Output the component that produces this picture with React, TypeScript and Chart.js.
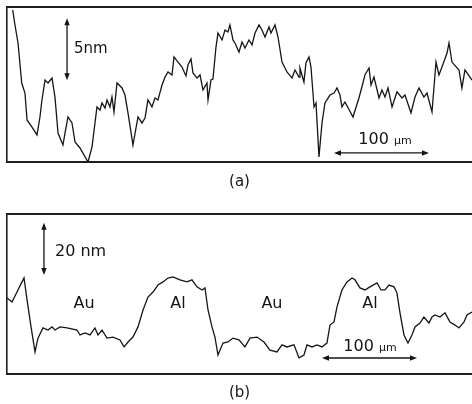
import { useEffect, useRef } from "react";
import { Chart, registerables } from "chart.js";

Chart.register(...registerables);

// ---------- Data (x: lateral position in µm, y: height in nm) ----------
const traceAX = [
  6.0, 8.4, 11.6, 15.5, 18.9, 21.1, 26.3, 31.6, 34.7, 36.8, 40.0, 43.2, 47.4, 50.5, 53.7, 58.9, 61.1, 64.2,
  68.4, 71.6, 76.8, 85.3, 89.5, 94.7, 97.9, 100.0, 103.2, 105.3, 108.4, 110.5, 112.6, 115.8, 121.1, 124.2,
  127.4, 132.6, 137.9, 142.1, 145.3, 148.4, 152.6, 155.8, 158.9, 163.2, 166.3, 169.5, 173.7, 175.8, 180.0,
  184.2, 188.4, 190.5, 193.7, 195.8, 200.0, 203.2, 206.3, 210.5, 211.6, 214.7, 216.8, 220.0, 222.1, 226.3,
  229.5, 232.6, 234.7, 237.9, 240.0, 244.2, 247.4, 250.5, 254.7, 257.9, 261.1, 265.3, 268.4, 271.6, 275.8,
  277.9, 282.1, 285.3, 289.5, 294.7, 300.0, 303.2, 307.4, 308.4, 312.6, 314.7, 317.9, 320.0, 323.2, 325.3,
  328.4, 331.6, 334.7, 340.0, 344.2, 347.4, 350.5, 352.6, 355.8, 364.2, 370.5, 374.7, 376.8, 381.1, 383.2,
  386.3, 391.6, 394.7, 397.9, 401.1, 405.3, 410.5, 415.8, 418.9, 423.2, 425.3, 429.5, 433.7, 438.9, 442.1,
  447.4, 451.6, 454.7, 457.9, 463.2, 465.3, 468.4, 475.8, 478.9, 482.1, 489.5,
];
const traceAY = [
  12.26, 11.05, 9.6, 6.37, 5.56, 3.39, 2.82, 2.18, 3.63, 5.0, 6.61, 6.37, 6.77, 5.24, 2.34, 1.37, 2.34, 3.63,
  3.15, 1.61, 1.13, 0.0, 1.21, 4.44, 4.19, 4.76, 4.35, 5.0, 4.44, 5.24, 4.03, 6.37, 5.97, 5.4,
  3.95, 1.37, 3.63, 3.15, 3.55, 5.0, 4.44, 5.16, 5.0, 6.21, 6.85, 7.26, 7.02, 8.47, 8.06,
  7.66, 6.94, 7.82, 8.31, 7.18, 6.77, 7.02, 5.81, 6.37, 5.0, 6.61, 6.69, 9.27, 10.4, 9.84,
  10.65, 10.48, 11.05, 9.84, 9.6, 8.87, 9.68, 9.19, 9.84, 9.44, 10.4, 11.05, 10.65, 10.08, 10.89,
  10.4, 11.05, 10.08, 8.06, 7.26, 6.77, 7.42, 6.85, 7.58, 6.45, 7.98, 8.47, 7.66, 4.44, 4.76,
  0.4, 3.15, 4.76, 5.4, 5.56, 5.97, 5.4, 4.44, 4.84, 3.63, 5.16, 6.37, 7.02, 7.58, 6.21,
  6.85, 5.16, 5.81, 5.24, 5.97, 4.44, 5.65, 5.16, 5.4, 4.44, 3.95, 5.24, 5.97, 5.24, 5.56,
  4.03, 8.06, 7.02, 7.66, 8.79, 9.6, 8.06, 7.42, 5.97, 7.42, 6.61,
];

const traceBX = [
  0, 5.3, 10.5, 15.8, 17.9, 21.1, 25.3, 29.5, 32.6, 37.9, 43.2, 47.4, 50.5, 55.8, 63.2, 73.7, 76.8, 82.1,
  87.4, 92.6, 95.8, 100.0, 105.3, 111.6, 118.9, 123.2, 127.4, 132.6, 137.9, 143.2, 148.4, 153.7, 158.9,
  164.2, 169.5, 174.7, 182.1, 189.5, 194.7, 200.0, 205.3, 208.4, 211.6, 215.8, 218.9, 222.1, 227.4, 232.6,
  237.9, 244.2, 250.5, 255.8, 263.2, 270.5, 276.8, 284.2, 289.5, 294.7, 302.1, 307.4, 312.6, 315.8, 321.1,
  326.3, 331.6, 336.8, 340.0, 344.2, 347.4, 352.6, 357.9, 363.2, 366.3, 371.6, 376.8, 382.1, 389.5, 393.7,
  397.9, 402.1, 407.4, 410.5, 413.7, 417.9, 422.1, 426.3, 429.5, 434.7, 438.9, 444.2, 447.4, 450.5, 455.8,
  461.1, 466.3, 471.6, 475.8, 481.1, 484.2, 489.5,
];
const traceBY = [
  29.2, 27.7, 31.5, 35.4, 36.9, 28.5, 18.1, 8.5, 13.8, 17.7, 16.9, 18.1, 16.9, 18.1, 17.7, 16.9, 15.0, 15.8,
  15.0, 17.7, 15.0, 16.9, 13.8, 14.2, 13.1, 10.4, 12.3, 14.2, 18.1, 24.6, 29.6, 31.5, 34.2,
  35.4, 36.9, 37.3, 36.2, 35.4, 36.2, 33.5, 32.3, 33.1, 24.6, 18.1, 14.2, 7.3, 11.9, 12.3,
  13.8, 13.1, 10.4, 13.8, 14.2, 12.3, 9.2, 8.5, 11.2, 10.4, 11.2, 6.2, 7.3, 11.2, 10.4,
  11.2, 10.4, 11.9, 18.8, 20.0, 25.8, 32.3, 35.4, 36.9, 36.2, 33.1, 32.3, 33.5, 35.0, 32.3,
  32.3, 34.2, 33.5, 31.2, 23.5, 15.0, 11.9, 15.0, 18.1, 19.6, 21.9, 19.6, 21.9, 22.7, 21.9,
  23.5, 20.0, 18.8, 17.7, 20.0, 22.7, 23.8,
];

const xRange = [0, 489.5];
const aYRange = [0, 12.5];
const bYRange = [0, 61.5];

// scale bars and labels (data units)
const aHeightBar = { x: 63.2, y0: 6.6, y1: 11.6, label: "5nm", labelX: 70.5, labelY: 9.11 };
const aLengthBar = { x0: 344.2, x1: 444.2, y: 0.73, label: "100", unit: "μm", labelX: 397.9, labelY: 1.94 };
const bHeightBar = { x: 38.9, y0: 38.1, y1: 58.1, label: "20 nm", labelX: 50.5, labelY: 46.9 };
const bLengthBar = { x0: 331.6, x1: 431.6, y: 6.15, label: "100", unit: "μm", labelX: 382.1, labelY: 11.15 };
const materialLabels = ["Au", "Al", "Au", "Al"];
const materialX = [81.1, 180.0, 278.9, 382.1];
const materialY = 26.9;

const FONT = "'DejaVu Sans', 'Liberation Sans', sans-serif";
const INK = "#151515";

type Bar = { x: number; y0: number; y1: number; label: string; labelX: number; labelY: number };
type HBar = { x0: number; x1: number; y: number; label: string; unit: string; labelX: number; labelY: number };

function head(ctx: CanvasRenderingContext2D, x: number, y: number, dx: number, dy: number) {
  const L = 7;
  const W = 2.7;
  const bx = x - dx * L;
  const by = y - dy * L;
  ctx.beginPath();
  ctx.moveTo(x, y);
  ctx.lineTo(bx - dy * W, by + dx * W);
  ctx.lineTo(bx + dy * W, by - dx * W);
  ctx.closePath();
  ctx.fill();
}

function makeNotes(vBar: Bar, hBar: HBar, fontSize: number, labels?: { text: string[]; xs: number[]; y: number }) {
  return {
    id: "notes",
    afterDatasetsDraw(chart: any) {
      const ctx: CanvasRenderingContext2D = chart.ctx;
      const xs = chart.scales.x;
      const ys = chart.scales.y;
      ctx.save();
      ctx.strokeStyle = INK;
      ctx.fillStyle = INK;
      ctx.lineWidth = 1.3;
      // vertical bar
      const vx = xs.getPixelForValue(vBar.x);
      const vTop = ys.getPixelForValue(vBar.y1);
      const vBot = ys.getPixelForValue(vBar.y0);
      ctx.beginPath();
      ctx.moveTo(vx, vTop + 3);
      ctx.lineTo(vx, vBot - 3);
      ctx.stroke();
      head(ctx, vx, vTop, 0, -1);
      head(ctx, vx, vBot, 0, 1);
      // horizontal bar
      const hy = ys.getPixelForValue(hBar.y);
      const hl = xs.getPixelForValue(hBar.x0);
      const hr = xs.getPixelForValue(hBar.x1);
      ctx.beginPath();
      ctx.moveTo(hl + 3, hy);
      ctx.lineTo(hr - 3, hy);
      ctx.stroke();
      head(ctx, hl, hy, -1, 0);
      head(ctx, hr, hy, 1, 0);
      // texts
      ctx.textBaseline = "middle";
      ctx.textAlign = "left";
      ctx.font = `${fontSize}px ${FONT}`;
      ctx.fillText(vBar.label, xs.getPixelForValue(vBar.labelX), ys.getPixelForValue(vBar.labelY));
      ctx.font = `16px ${FONT}`;
      const w1 = ctx.measureText(hBar.label + " ").width;
      ctx.font = `11px ${FONT}`;
      const w2 = ctx.measureText(hBar.unit).width;
      const cx = xs.getPixelForValue(hBar.labelX) - (w1 + w2) / 2;
      const cy = ys.getPixelForValue(hBar.labelY);
      ctx.font = `16px ${FONT}`;
      ctx.textBaseline = "alphabetic";
      ctx.fillText(hBar.label, cx, cy + 6);
      ctx.font = `11px ${FONT}`;
      ctx.fillText(hBar.unit, cx + w1, cy + 6);
      if (labels) {
        ctx.textBaseline = "middle";
        ctx.textAlign = "center";
        ctx.font = `16px ${FONT}`;
        labels.text.forEach((t, i) => {
          ctx.fillText(t, xs.getPixelForValue(labels.xs[i]), ys.getPixelForValue(labels.y));
        });
      }
      ctx.restore();
    },
  };
}

function baseOptions(yRange: number[], title: string, titlePadTop: number, pad: any) {
  const border = { display: true, color: "#1e1e1e", width: 2 };
  return {
    responsive: false,
    animation: false as const,
    events: [],
    layout: { padding: pad },
    plugins: { legend: { display: false }, tooltip: { enabled: false } },
    scales: {
      x: {
        type: "linear" as const,
        position: "bottom" as const,
        min: xRange[0],
        max: xRange[1],
        grid: { display: false, drawTicks: false },
        ticks: { display: false },
        border,
        title: {
          display: true,
          text: title,
          color: INK,
          font: { family: FONT, size: 15 },
          padding: { top: titlePadTop, bottom: 0 },
        },
      },
      xTop: {
        type: "linear" as const,
        position: "top" as const,
        min: xRange[0],
        max: xRange[1],
        grid: { display: false, drawTicks: false },
        ticks: { display: false },
        border,
      },
      y: {
        type: "linear" as const,
        position: "left" as const,
        min: yRange[0],
        max: yRange[1],
        grid: { display: false, drawTicks: false },
        ticks: { display: false },
        border: { display: true, color: "#1e1e1e", width: 1.6 },
      },
    },
  };
}

function toPoints(xs: number[], ys: number[]) {
  return xs.map((x, i) => ({ x, y: ys[i] }));
}

export default function App() {
  const refA = useRef<HTMLCanvasElement>(null);
  const refB = useRef<HTMLCanvasElement>(null);

  useEffect(() => {
    const ds = (xs: number[], ys: number[]) => ({
      data: toPoints(xs, ys),
      borderColor: INK,
      borderWidth: 1.3,
      pointRadius: 0,
      tension: 0,
      fill: false,
    });
    const chartA = new Chart(refA.current as HTMLCanvasElement, {
      type: "line",
      data: { datasets: [ds(traceAX, traceAY)] },
      options: baseOptions(aYRange, "(a)", 11, { top: 7, left: 7, right: 0, bottom: 9 }) as any,
      plugins: [makeNotes(aHeightBar, aLengthBar, 15)],
    });
    const chartB = new Chart(refB.current as HTMLCanvasElement, {
      type: "line",
      data: { datasets: [ds(traceBX, traceBY)] },
      options: baseOptions(bYRange, "(b)", 10, { top: 10, left: 7, right: 0, bottom: 2 }) as any,
      plugins: [makeNotes(bHeightBar, bLengthBar, 16, { text: materialLabels, xs: materialX, y: materialY })],
    });
    return () => {
      chartA.destroy();
      chartB.destroy();
    };
  }, []);

  return (
    <div style={{ position: "absolute", left: 0, top: 0, width: 472, height: 404, background: "#fff", overflow: "hidden" }}>
      <canvas ref={refA} width={472} height={200} style={{ position: "absolute", left: 0, top: 0, display: "block" }} />
      <canvas ref={refB} width={472} height={200} style={{ position: "absolute", left: 0, top: 204, display: "block" }} />
    </div>
  );
}
